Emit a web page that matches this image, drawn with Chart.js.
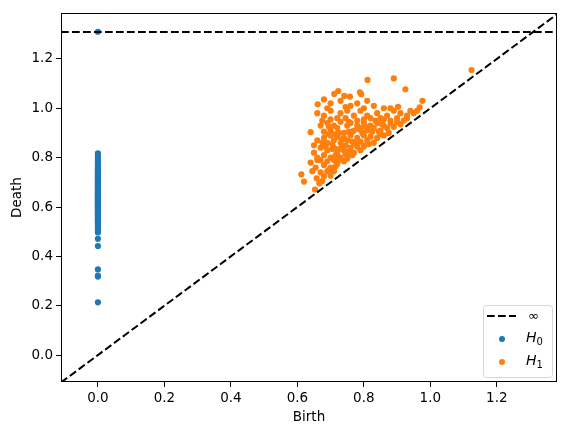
<!DOCTYPE html>
<html>
<head>
<meta charset="utf-8">
<script src="https://cdn.jsdelivr.net/npm/chart.js@4"></script>
<style>
  body { margin: 0; background: #fff; }
  #wrap { width: 570px; height: 436px; }
</style>
</head>
<body>
<div id="wrap"><canvas id="chart-pd"></canvas></div>
<script>
// axis limits (same for birth and death, like the persistence diagram)
var X_MIN = -0.111, X_MAX = 1.381
var Y_MIN = -0.109, Y_MAX = 1.386
var INF_LEVEL = 1.309
var TICKS = [0, 0.2, 0.4, 0.6, 0.8, 1.0, 1.2]

var COLORES = {
    "h0": "#1f77b4",
    "h1": "#ff7f0e",
    "linea": "#000000",
}

// H0: every class is born at 0
var h0_deaths = [1.31, 0.817, 0.805, 0.795, 0.785, 0.775, 0.765, 0.757, 0.750, 0.745,
    0.738, 0.733, 0.728, 0.722, 0.718, 0.713, 0.708, 0.703, 0.699, 0.694,
    0.690, 0.686, 0.682, 0.678, 0.674, 0.670, 0.666, 0.662, 0.658, 0.654,
    0.650, 0.646, 0.642, 0.638, 0.634, 0.630, 0.626, 0.622, 0.618, 0.614,
    0.610, 0.606, 0.602, 0.598, 0.594, 0.590, 0.585, 0.580, 0.575, 0.570,
    0.565, 0.560, 0.555, 0.550, 0.545, 0.540, 0.535, 0.528, 0.520, 0.512,
    0.505, 0.497, 0.471, 0.442, 0.347, 0.321, 0.318, 0.214]

// H1: [birth, death]
var h1_pairs = [
    [0.811,1.115],[0.890,1.121],[1.124,1.155],[0.925,1.077],[0.723,1.070],[0.711,1.058],
    [0.741,1.050],[0.758,1.047],[0.788,1.065],[0.792,1.057],[0.680,1.036],[0.661,1.016],
    [0.976,1.030],[0.968,1.004],[0.903,1.006],[0.70,1.02],[0.73,1.03],[0.76,1.01],
    [0.78,1.02],[0.81,1.03],[0.83,1.01],[0.80,1.00],[0.745,1.005],[0.69,1.00],[0.86,1.00],[0.88,1.00],
    [0.66,0.98],[0.68,0.97],[0.70,0.99],[0.72,0.96],[0.73,0.98],[0.75,0.99],[0.77,0.97],
    [0.78,0.95],[0.79,0.99],[0.81,0.97],[0.82,0.96],[0.84,0.98],[0.85,0.96],[0.87,0.97],
    [0.89,0.99],[0.90,0.96],[0.91,0.98],[0.93,0.97],[0.94,0.99],[0.95,0.98],[0.96,0.99],
    [0.92,0.95],[0.70,0.955],[0.675,0.95],[0.745,0.96],[0.80,0.955],[0.835,0.95],[0.86,0.955],
    [0.88,0.95],[0.93,0.96],
    [0.64,0.903],[0.67,0.93],[0.69,0.94],[0.70,0.91],[0.71,0.93],[0.72,0.92],[0.73,0.945],
    [0.74,0.90],[0.75,0.93],[0.76,0.94],[0.77,0.91],[0.78,0.93],[0.79,0.92],[0.80,0.94],
    [0.81,0.91],[0.82,0.93],[0.83,0.92],[0.84,0.94],[0.85,0.91],[0.86,0.93],[0.87,0.92],
    [0.88,0.94],[0.89,0.925],[0.90,0.945],[0.91,0.935],[0.68,0.905],[0.725,0.90],[0.765,0.905],
    [0.795,0.90],[0.845,0.905],[0.875,0.90],[0.695,0.925],
    [0.66,0.87],[0.68,0.88],[0.69,0.86],[0.70,0.89],[0.71,0.87],[0.72,0.885],[0.73,0.86],
    [0.74,0.88],[0.75,0.87],[0.76,0.89],[0.77,0.86],[0.78,0.88],[0.79,0.865],[0.80,0.89],
    [0.81,0.87],[0.82,0.885],[0.83,0.86],[0.84,0.88],[0.85,0.895],[0.86,0.89],[0.705,0.855],
    [0.745,0.85],[0.775,0.855],[0.80,0.85],[0.815,0.855],[0.65,0.85],[0.675,0.86],
    [0.65,0.82],[0.66,0.80],[0.67,0.84],[0.68,0.81],[0.69,0.83],[0.70,0.80],[0.71,0.84],
    [0.72,0.82],[0.73,0.80],[0.74,0.83],[0.75,0.81],[0.76,0.84],[0.77,0.82],[0.78,0.845],
    [0.79,0.83],[0.80,0.845],[0.715,0.81],[0.735,0.845],[0.755,0.825],[0.685,0.845],
    [0.725,0.835],[0.765,0.81],
    [0.64,0.78],[0.655,0.76],[0.67,0.79],[0.68,0.77],[0.69,0.785],[0.70,0.76],[0.71,0.79],
    [0.72,0.775],[0.73,0.795],[0.74,0.785],[0.75,0.795],[0.66,0.79],[0.695,0.75],[0.715,0.765],
    [0.725,0.79],
    [0.612,0.732],[0.620,0.703],[0.653,0.671],[0.658,0.716],[0.666,0.696],[0.700,0.727],
    [0.67,0.74],[0.68,0.725],[0.69,0.745],[0.675,0.705],[0.645,0.745],[0.71,0.745],
    [0.735,0.875],[0.755,0.905],[0.785,0.915],[0.715,0.895],[0.765,0.865],[0.745,0.815],
    [0.705,0.835],[0.825,0.905],[0.855,0.935],[0.695,0.895],[0.755,0.945],[0.805,0.925]
]

var FONT = "'DejaVu Sans', sans-serif"
var DASH = [7.7, 3.3]

// marco negro alrededor del area + leyenda estilo matplotlib
var marcoLeyenda = {
    id: "marcoLeyenda",
    afterDraw: function(c){
        var ctx = c.ctx
        var a = c.chartArea
        ctx.save()
        ctx.strokeStyle = "#000"
        ctx.lineWidth = 1
        ctx.strokeRect(Math.round(a.left) + 0.5, Math.round(a.top) + 0.5,
            Math.round(a.right - a.left) - 1, Math.round(a.bottom - a.top) - 1)

        // legend box
        var bx = a.right - 74, by = a.bottom - 77, bw = 69, bh = 72
        ctx.fillStyle = "rgba(255,255,255,0.8)"
        ctx.strokeStyle = "#d6d6d6"
        ctx.beginPath()
        if (ctx.roundRect) ctx.roundRect(bx + 0.5, by + 0.5, bw, bh, 3)
        else ctx.rect(bx + 0.5, by + 0.5, bw, bh)
        ctx.fill()
        ctx.stroke()

        var rows = [by + 11, by + 34, by + 57]
        // infinity line sample
        ctx.strokeStyle = "#000"
        ctx.lineWidth = 2
        ctx.setLineDash(DASH)
        ctx.beginPath()
        ctx.moveTo(bx + 4, rows[0])
        ctx.lineTo(bx + 33, rows[0])
        ctx.stroke()
        ctx.setLineDash([])

        ctx.fillStyle = COLORES.h0
        ctx.beginPath(); ctx.arc(bx + 19, rows[1], 3, 0, Math.PI * 2); ctx.fill()
        ctx.fillStyle = COLORES.h1
        ctx.beginPath(); ctx.arc(bx + 19, rows[2], 3, 0, Math.PI * 2); ctx.fill()

        ctx.fillStyle = "#000"
        ctx.textBaseline = "middle"
        ctx.textAlign = "left"
        ctx.font = "13px " + FONT
        ctx.fillText("\u221e", bx + 45, rows[0] + 1)
        var labs = ["0", "1"]
        for (var i = 0; i < 2; i++){
            ctx.font = "italic 14px " + FONT
            ctx.fillText("H", bx + 43, rows[i + 1] - 1)
            var w = ctx.measureText("H").width
            ctx.font = "10px " + FONT
            ctx.fillText(labs[i], bx + 43 + w, rows[i + 1] + 3)
        }
        ctx.restore()
    }
}

function init_chart(){
    var h0_points = h0_deaths.map(function(d){ return {x: 0, y: d} })
    var h1_points = h1_pairs.map(function(p){ return {x: p[0], y: p[1]} })

    var ejeComun = {
        type: "linear",
        grid: { display: true, drawOnChartArea: false, color: "#000", tickLength: 5, tickWidth: 1 },
        border: { display: false },
        ticks: {
            color: "#000",
            font: { family: FONT, size: 13.5 },
            padding: 3,
            callback: function(v){ return v.toFixed(1) },
        },
        afterBuildTicks: function(s){ s.ticks = TICKS.map(function(v){ return {value: v} }) },
    }

    new Chart(document.getElementById("chart-pd"), {
        type: "scatter",
        data: {
            datasets: [
                {
                    type: "line",
                    label: "diag",
                    data: [{x: X_MIN, y: X_MIN}, {x: Y_MAX, y: Y_MAX}],
                    borderColor: COLORES.linea,
                    borderWidth: 2,
                    borderDash: DASH,
                    pointRadius: 0,
                    order: 0,
                },
                {
                    type: "line",
                    label: "\u221e",
                    data: [{x: X_MIN, y: INF_LEVEL}, {x: X_MAX, y: INF_LEVEL}],
                    borderColor: COLORES.linea,
                    borderWidth: 2,
                    borderDash: DASH,
                    pointRadius: 0,
                    order: 0,
                },
                {
                    label: "H0",
                    data: h0_points,
                    backgroundColor: COLORES.h0,
                    borderWidth: 0,
                    pointRadius: 3.1,
                    order: 1,
                },
                {
                    label: "H1",
                    data: h1_points,
                    backgroundColor: COLORES.h1,
                    borderWidth: 0,
                    pointRadius: 3.1,
                    order: 1,
                },
            ],
        },
        options: {
            responsive: true,
            maintainAspectRatio: false,
            animation: false,
            layout: { padding: { left: 0, right: 13, top: 13, bottom: 0 } },
            plugins: { legend: { display: false }, tooltip: { enabled: false } },
            scales: {
                x: Object.assign({}, ejeComun, {
                    min: X_MIN, max: X_MAX,
                    title: { display: true, text: "Birth", color: "#000", font: { family: FONT, size: 13.5 }, padding: { top: 0, bottom: 10 } },
                    afterFit: function(s){ s.height = 54 },
                }),
                y: Object.assign({}, ejeComun, {
                    min: Y_MIN, max: Y_MAX,
                    title: { display: true, text: "Death", color: "#000", font: { family: FONT, size: 13.5 }, padding: { top: 9, bottom: 0 } },
                    afterFit: function(s){ s.width = 61 },
                }),
            },
        },
        plugins: [marcoLeyenda],
    })
}

init_chart()
</script>
</body>
</html>
